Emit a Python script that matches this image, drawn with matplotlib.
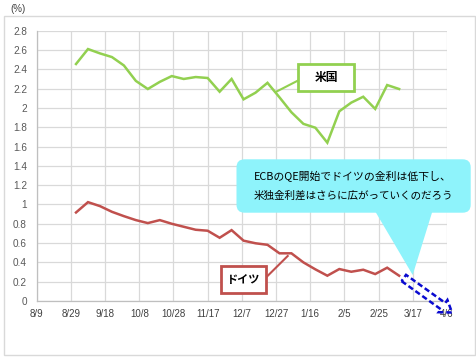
import matplotlib
matplotlib.use("Agg")
import matplotlib.pyplot as plt
import numpy as np
import pandas as pd
from matplotlib.patches import FancyBboxPatch, Polygon, Rectangle
from matplotlib.lines import Line2D
from matplotlib.transforms import IdentityTransform

# ---------------- data ----------------
dates = ["2014-09-01", "2014-09-08", "2014-09-15", "2014-09-22", "2014-09-29",
         "2014-10-06", "2014-10-13", "2014-10-20", "2014-10-27", "2014-11-03",
         "2014-11-10", "2014-11-17", "2014-11-24", "2014-12-01", "2014-12-08",
         "2014-12-15", "2014-12-22", "2014-12-29", "2015-01-05", "2015-01-12",
         "2015-01-19", "2015-01-26", "2015-02-02", "2015-02-09", "2015-02-16",
         "2015-02-23", "2015-03-02", "2015-03-09"]
us_yield = [2.455, 2.61, 2.565, 2.527, 2.44, 2.28, 2.196, 2.27, 2.33, 2.30,
            2.32, 2.31, 2.168, 2.30, 2.089, 2.158, 2.26, 2.11, 1.955, 1.835,
            1.795, 1.64, 1.965, 2.055, 2.116, 1.99, 2.237, 2.196]
de_yield = [0.917, 1.024, 0.983, 0.924, 0.879, 0.838, 0.807, 0.838, 0.80, 0.769,
            0.738, 0.728, 0.655, 0.734, 0.625, 0.598, 0.582, 0.494, 0.494, 0.40,
            0.328, 0.262, 0.331, 0.303, 0.324, 0.279, 0.345, 0.262]
start_date = "2014-08-09"
tick_labels = ["8/9", "8/29", "9/18", "10/8", "10/28", "11/17", "12/7",
               "12/27", "1/16", "2/5", "2/25", "3/17", "4/6"]
tick_step_days = 20
y_ticks = [0, 0.2, 0.4, 0.6, 0.8, 1, 1.2, 1.4, 1.6, 1.8, 2, 2.2, 2.4, 2.6, 2.8]
label_us = "米国"
label_de = "ドイツ"
callout = ["ECBのQE開始でドイツの金利は低下し、", "米独金利差はさらに広がっていくのだろう"]

# ---------------- figure ----------------
W, H = 476, 360
plt.rcParams["font.family"] = ["Noto Sans CJK JP", "DejaVu Sans"]
fig = plt.figure(figsize=(W / 100, H / 100), dpi=100)
fig.patch.set_facecolor("white")
idt = IdentityTransform()


def d(x, y):
    return (x, H - y)


# outer chart border
fig.add_artist(Rectangle(d(3.5, 355), 471.5, 339, transform=idt, fill=False,
                         ec="#d9d9d9", lw=1.0, zorder=0))

ax_l, ax_r, ax_t, ax_b = 36.7, 447.0, 30.7, 301.0
ax = fig.add_axes([ax_l / W, (H - ax_b) / H, (ax_r - ax_l) / W, (ax_b - ax_t) / H])

x = (pd.to_datetime(dates) - pd.Timestamp(start_date)).days.values
tick_pos = [i * tick_step_days for i in range(len(tick_labels))]

ax.plot(x, us_yield, color="#92D050", lw=1.8, solid_joinstyle="miter", zorder=3)
ax.plot(x, de_yield, color="#C0504D", lw=1.8, solid_joinstyle="miter", zorder=3)

ax.set_xlim(tick_pos[0], tick_pos[-1])
ax.set_ylim(0, 2.8)
ax.set_xticks(tick_pos)
ax.set_xticklabels(tick_labels, family="Liberation Sans", fontsize=7, color="#404040")
ax.set_yticks(y_ticks)
ax.set_yticklabels([f"{v:g}" for v in y_ticks], family="Liberation Sans",
                   fontsize=7.2, color="#595959")
ax.tick_params(axis="both", length=0)
ax.tick_params(axis="x", pad=6)
ax.tick_params(axis="y", pad=7)
ax.grid(True, color="#d9d9d9", lw=0.9)
ax.set_axisbelow(True)
for s in ["top", "right"]:
    ax.spines[s].set_visible(False)
ax.spines["left"].set_color("#bfbfbf")
ax.spines["bottom"].set_color("#bfbfbf")
ax.spines["left"].set_linewidth(0.9)
ax.spines["bottom"].set_linewidth(0.9)

fig.text(18 / W, 1 - 8.5 / H, "(%)", ha="center", va="center", fontsize=7,
         color="#404040", family="Liberation Sans")

# ---------------- series labels with leader lines ----------------
fig.add_artist(Line2D([275.7, 297.7], [H - 92, H - 80.7], transform=idt,
                      color="#92D050", lw=1.5, zorder=4))
fig.add_artist(Rectangle(d(297.7, 91), 56.6, 26.7, transform=idt, fc="white",
                         ec="#92D050", lw=2.0, zorder=5))
fig.text(326 / W, 1 - 78 / H, label_us, ha="center", va="center", fontsize=8.5,
         fontweight="bold", color="black", zorder=6)

fig.add_artist(Line2D([287.7, 266], [H - 256, H - 277.5], transform=idt,
                      color="#C0504D", lw=1.5, zorder=4))
fig.add_artist(Rectangle(d(220.7, 293.3), 45.3, 27.3, transform=idt, fc="white",
                         ec="#C0504D", lw=2.0, zorder=5))
fig.text(243.5 / W, 1 - 280 / H, label_de, ha="center", va="center", fontsize=8,
         fontweight="bold", color="black", zorder=6)

# ---------------- callout bubble ----------------
cyan = "#8EF3FB"
fig.add_artist(FancyBboxPatch(d(236.5, 212.7), 234.2, 53.4,
                              boxstyle="round,pad=0,rounding_size=8",
                              transform=idt, fc=cyan, ec="none", zorder=7))
fig.add_artist(Polygon([d(375, 211), d(432.5, 211), d(412.7, 275)], closed=True,
                       transform=idt, fc=cyan, ec="none", zorder=7))
fig.text(353 / W, 1 - 177 / H, callout[0], ha="center", va="center", fontsize=7.8,
         color="black", zorder=8)
fig.text(353 / W, 1 - 195.5 / H, callout[1], ha="center", va="center", fontsize=7.6,
         color="black", zorder=8)

# ---------------- dashed block arrow ----------------
tail = np.array([403.8, 278.0])
tip = np.array([452.0, 312.5])
v = tip - tail
L = np.hypot(*v)
u = v / L
n = np.array([-u[1], u[0]])
sw, hw, hl = 7.7, 15.0, 11.0
pts = [tail + n * sw / 2, tail + u * (L - hl) + n * sw / 2, tail + u * (L - hl) + n * hw / 2,
       tip, tail + u * (L - hl) - n * hw / 2, tail + u * (L - hl) - n * sw / 2,
       tail - n * sw / 2]
pts = [d(p[0], p[1]) for p in pts]
fig.add_artist(Polygon(pts, closed=True, transform=idt, fill=False, ec="#0a0ad0",
                       lw=1.8, ls=(0, (2.2, 1.2)), joinstyle="miter", zorder=9))

fig.savefig("out.png", dpi=100)
